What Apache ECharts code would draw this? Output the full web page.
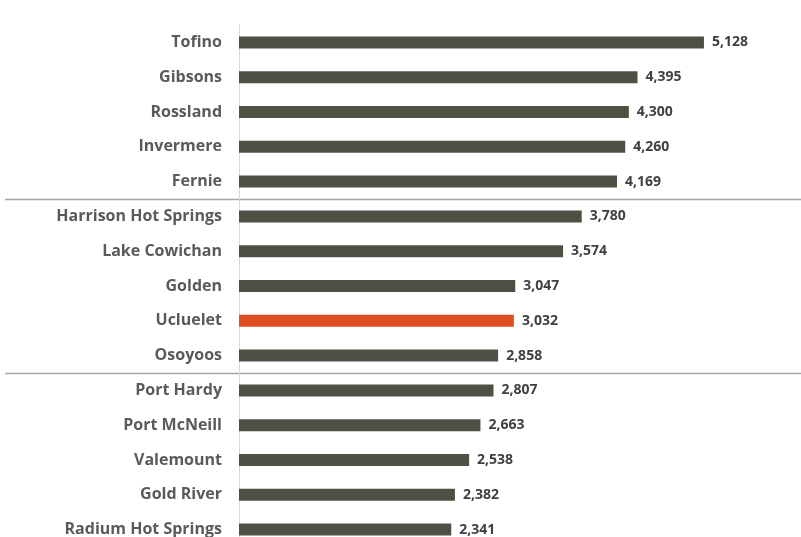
<!DOCTYPE html>
<html>
<head>
<meta charset="utf-8">
<script src="https://cdn.jsdelivr.net/npm/echarts@6/dist/echarts.min.js"></script>
<style>
  html, body { margin: 0; padding: 0; background: #ffffff; }
  #chart { width: 801px; height: 537px; }
</style>
</head>
<body>
<div id="chart"></div>
<script>
// communities, top to bottom
const towns = ['Tofino', 'Gibsons', 'Rossland', 'Invermere', 'Fernie',
  'Harrison Hot Springs', 'Lake Cowichan', 'Golden', 'Ucluelet', 'Osoyoos',
  'Port Hardy', 'Port McNeill', 'Valemount', 'Gold River', 'Radium Hot Springs']
const values = [5128, 4395, 4300, 4260, 4169, 3780, 3574, 3047, 3032, 2858,
  2807, 2663, 2538, 2382, 2341]
const highlight = 'Ucluelet'
// group breaks come after these rows
const breaksAfter = ['Fernie', 'Osoyoos']

const chart = echarts.init(document.getElementById('chart'))

chart.setOption({
  animation: false,
  grid: { left: 239, top: 25, width: 544, height: 522, outerBoundsMode: 'none' },
  xAxis: {
    type: 'value',
    min: 0,
    max: 6000,
    show: false
  },
  yAxis: {
    type: 'category',
    data: towns,
    inverse: true,
    axisTick: { show: false },
    axisLine: { lineStyle: { color: '#d9d9d9', width: 1 } },
    axisLabel: {
      margin: 17,
      color: '#5a5a5a',
      fontFamily: 'Open Sans',
      fontWeight: 'bold',
      fontSize: 16
    }
  },
  series: [{
    type: 'bar',
    barWidth: 12,
    data: values.map((v, i) => ({
      value: v,
      itemStyle: { color: towns[i] === highlight ? '#e04e23' : '#504f46' }
    })),
    label: {
      show: true,
      position: 'right',
      distance: 8,
      color: '#404040',
      fontFamily: 'Open Sans',
      fontWeight: 'bold',
      fontSize: 14,
      formatter: p => p.value.toLocaleString('en-US')
    }
  }]
})

// separator lines between groups, placed via the axis scale
const lines = breaksAfter.map(name => {
  const i = towns.indexOf(name)
  const y1 = chart.convertToPixel({ yAxisIndex: 0 }, towns[i])
  const y2 = chart.convertToPixel({ yAxisIndex: 0 }, towns[i + 1])
  const y = Math.round((y1 + y2) / 2) + 0.5
  return {
    type: 'line',
    shape: { x1: 5, y1: y, x2: 801, y2: y },
    style: { stroke: '#a6a6a6', lineWidth: 1.5 }
  }
})
chart.setOption({ graphic: lines })
</script>
</body>
</html>
